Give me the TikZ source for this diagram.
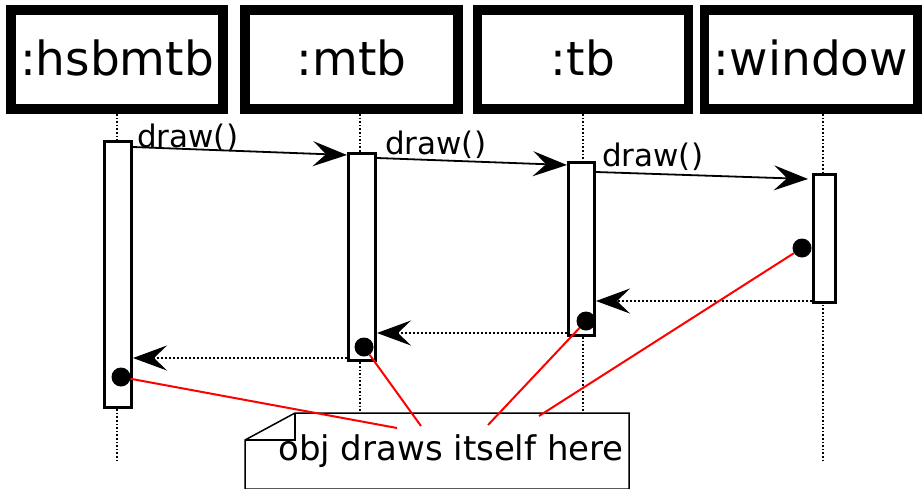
\documentclass[tikz,border=0pt]{standalone}
\usepackage{fontspec}
\setmainfont{DejaVu Sans}
\usetikzlibrary{arrows.meta,calc}
\begin{document}
\begin{tikzpicture}[x=1pt,y=-1pt,
  hdr/.style={draw, line width=9.5pt, inner sep=0pt, outer sep=0pt, fill=white,
    font=\fontsize{47}{47}\selectfont, text height=31pt, text depth=0pt},
  act/.style={draw, fill=white, line width=3pt, inner sep=0pt},
  life/.style={line width=1.6pt, dash pattern=on 1.6pt off 2pt},
  msg/.style={line width=1.8pt, -{Stealth[length=34pt,width=25pt,inset=13pt]}},
  ret/.style={line width=2pt, dash pattern=on 2pt off 2pt, -{Stealth[length=34pt,width=25pt,inset=13pt]}},
  lbl/.style={font=\fontsize{31}{31}\selectfont, inner sep=0pt, anchor=base west},
  dot/.style={circle, fill=black, minimum size=19pt, inner sep=0pt},
  redl/.style={red, line width=2pt},
  notebox/.style={draw, fill=white, line width=1.5pt, line join=miter}]
\useasboundingbox (0,0) rectangle (922,488);
% lifelines
\foreach \i/\x in {1/117,2/360,3/583,4/823}{
  \coordinate (t\i) at (\x,114);
  \coordinate (b\i) at (\x,460);
  \draw[life] (t\i) -- (b\i);
}
% headers
\node[hdr, minimum width=212pt, minimum height=99pt] (h1) at (117,59.5) {:hsbmtb};
\node[hdr, minimum width=213pt, minimum height=99pt] (h2) at (351.5,59.5) {:mtb};
\node[hdr, minimum width=211pt, minimum height=99pt] (h3) at (583,59.5) {:tb};
\node[hdr, minimum width=213pt, minimum height=99pt] (h4) at (811,59.5) {:window};
% activation boxes
\node[act, minimum width=27pt, minimum height=266pt] (a1) at (118,274.5) {};
\node[act, minimum width=27pt, minimum height=207pt] (a2) at (362,257) {};
\node[act, minimum width=26pt, minimum height=173pt] (a3) at (581.5,249) {};
\node[act, minimum width=22pt, minimum height=128pt] (a4) at (824.5,238.5) {};
% note
\coordinate (nA) at (245,489);
\coordinate (nB) at (245,440);
\coordinate (nC) at (295,413);
\coordinate (nD) at (629,413);
\coordinate (nE) at (629,489);
\draw[notebox] (nA) -- (nB) -- (nC) -- (nD) -- (nE) -- cycle;
\draw[line width=1.5pt] (nC) -- (nC |- nB) -- (nB);
\node[font=\fontsize{34}{34}\selectfont, inner sep=0pt, anchor=base] (note) at (451,460) {obj draws itself here};
% messages
\draw[msg] ([yshift=-7pt]a1.north east) -- ([yshift=-3pt]a2.north west);
\draw[msg] ([yshift=-6pt]a2.north east) -- ([yshift=-4pt]a3.north west);
\draw[msg] ([yshift=-11pt]a3.north east) -- ([xshift=-4pt,yshift=-6pt]a4.north west);
\node[lbl] (m1) at (137,147) {draw()};
\node[lbl] (m2) at (385,154) {draw()};
\node[lbl] (m3) at (602,166) {draw()};
% returns
\draw[ret] ([yshift=3pt]a4.south west) coordinate (r1) -- (r1 -| a3.east);
\draw[ret] ([yshift=4pt]a3.south west) coordinate (r2) -- (r2 -| a2.east);
\draw[ret] ([yshift=4pt]a2.south west) coordinate (r3) -- (r3 -| a1.east);
% dots
\node[dot] (d1) at (121,377) {};
\node[dot] (d2) at (364,347) {};
\node[dot] (d3) at (586,321) {};
\node[dot] (d4) at (802,248) {};
% red pointers
\coordinate (p1) at (397,428);
\coordinate (p2) at (421,426);
\coordinate (p3) at (488,425);
\coordinate (p4) at (539,416);
\draw[redl] (d1) -- (p1);
\draw[redl] (d2) -- (p2);
\draw[redl] (d3) -- (p3);
\draw[redl] (d4) -- (p4);
\end{tikzpicture}
\end{document}
